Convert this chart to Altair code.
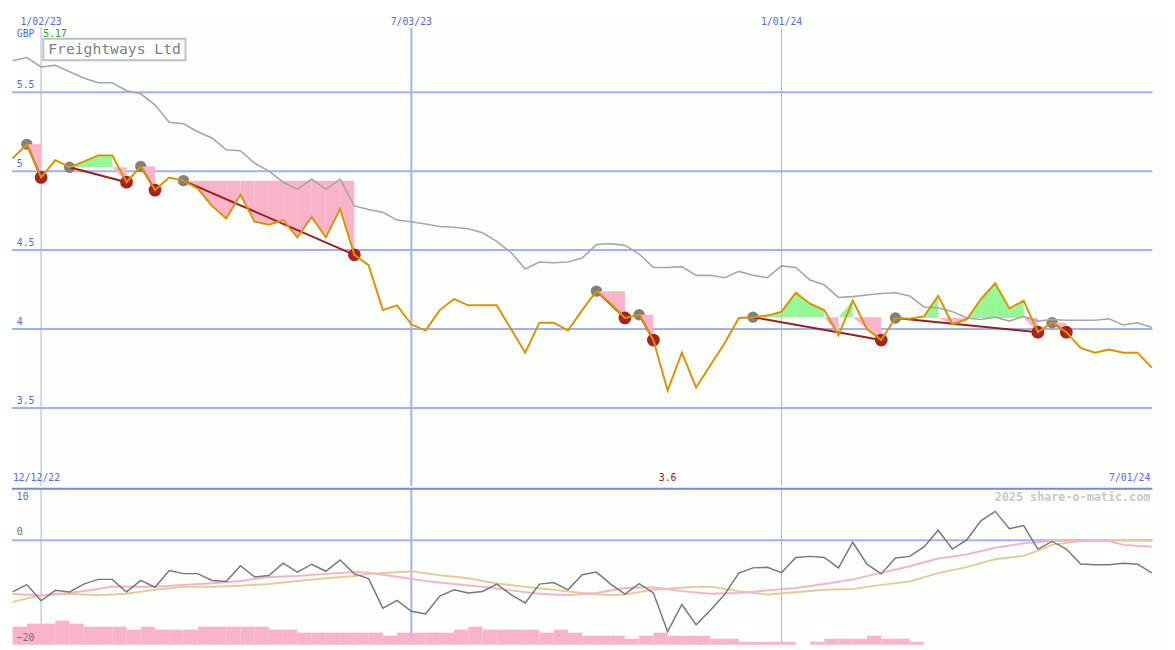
import altair as alt
import pandas as pd

# ---------------- text ----------------
COMPANY = "Freightways Ltd"
CURRENCY = "GBP"
WATERMARK = "2025 share-o-matic.com"
START_LABEL = "12/12/22"
END_LABEL = "7/01/24"

# ---------------- data (weekly, first week 2022-12-19) ----------------
first_week = "2022-12-19"
price = [5.08, 5.17, 4.96, 5.07, 5.025, 5.06, 5.10, 5.10, 4.93, 5.03,
         4.88, 4.96, 4.94, 4.89, 4.78, 4.70, 4.85, 4.68, 4.66, 4.69,
         4.58, 4.71, 4.58, 4.76, 4.47, 4.405, 4.12, 4.15, 4.03, 3.99,
         4.12, 4.19, 4.15, 4.15, 4.15, 4.00, 3.85, 4.04, 4.04, 3.99,
         4.12, 4.24, 4.16, 4.07, 4.09, 3.93, 3.61, 3.85, 3.63, 3.77,
         3.91, 4.07, 4.075, 4.085, 4.11, 4.23, 4.16, 4.12, 3.96, 4.18,
         4.00, 3.93, 4.07, 4.065, 4.08, 4.21, 4.03, 4.06, 4.19, 4.29,
         4.13, 4.18, 3.98, 4.04, 3.98, 3.88, 3.85, 3.87, 3.85, 3.85, 3.755]
ma_slow = [5.70, 5.72, 5.66, 5.67, 5.63, 5.59, 5.56, 5.56, 5.51, 5.49,
           5.42, 5.31, 5.30, 5.25, 5.21, 5.135, 5.13, 5.05, 5.00, 4.93,
           4.885, 4.95, 4.885, 4.95, 4.78, 4.757, 4.74, 4.69, 4.68, 4.665,
           4.65, 4.645, 4.635, 4.61, 4.555, 4.485, 4.38, 4.425, 4.42, 4.425,
           4.45, 4.535, 4.54, 4.53, 4.475, 4.39, 4.39, 4.395, 4.34, 4.34,
           4.325, 4.365, 4.34, 4.325, 4.40, 4.39, 4.31, 4.28, 4.20, 4.205,
           4.215, 4.225, 4.23, 4.21, 4.14, 4.135, 4.11, 4.07, 4.06, 4.075,
           4.05, 4.08, 4.05, 4.06, 4.055, 4.055, 4.055, 4.065, 4.025, 4.04, 4.01]
momentum = [-9.9, -8.5, -11.6, -9.6, -9.9, -8.4, -7.5, -7.5, -9.9, -7.7,
            -9.0, -5.8, -6.4, -6.4, -7.7, -7.9, -4.9, -7.05, -6.75, -4.4,
            -6.1, -4.6, -5.95, -3.8, -6.45, -7.35, -13.0, -11.5, -13.6, -14.1,
            -10.7, -9.5, -10.1, -9.8, -8.4, -10.4, -12.0, -8.4, -8.1, -9.5,
            -6.6, -6.1, -8.4, -10.3, -8.3, -10.1, -17.5, -12.3, -16.2, -13.4,
            -10.4, -6.3, -5.3, -5.2, -6.2, -3.3, -3.1, -3.3, -5.3, -0.4,
            -4.6, -6.45, -3.4, -3.1, -1.3, 1.9, -1.7, 0.05, 3.7, 5.5,
            2.2, 2.8, -1.7, -0.25, -1.7, -4.55, -4.7, -4.7, -4.4, -4.6, -6.25]
volume = [6, 7, 7, 8, 7, 6, 6, 6, 5, 6,
          5, 5, 5, 6, 6, 6, 6, 6, 5, 5,
          4, 4, 4, 4, 4, 4, 3, 4, 4, 4,
          4, 5, 6, 5, 5, 5, 5, 4, 5, 4,
          3, 3, 3, 2, 3, 4, 3, 3, 3, 2,
          2, 1, 1, 1, 1, 0, 1, 2, 2, 2,
          3, 2, 2, 1, 0, 0, 0, 0, 0, 0,
          0, 0, 0, 0, 0, 0, 0, 0, 0, 0, 0]

# week offsets from 2023-01-02 for the two smooth indicator averages
pink_weeks = [-2, 0, 2, 4, 5, 8, 10, 12, 14, 16, 18, 20, 22, 23, 25, 27, 29, 31, 33, 35,
              37, 39, 41, 43, 45, 47, 49, 51, 53, 55, 57, 59, 61, 63, 65, 67, 69, 71, 73, 75,
              76, 78]
pink_vals = [-10.3, -10.55, -10.1, -9.35, -8.85, -8.9, -8.55, -8.25, -7.8, -7.05,
             -6.85, -6.45, -6.1, -6.25, -7.0, -7.8, -8.4, -8.9, -9.6, -10.25,
             -10.55, -10.1, -9.15, -9.0, -9.75, -10.25, -10.1, -9.6, -9.15, -8.4,
             -7.5, -6.25, -5.0, -3.5, -2.75, -1.45, -0.6, -0.15, 0.0, -0.15,
             -0.9, -1.25]
tan_weeks = [-2, 0, 2, 4, 6, 8, 10, 12, 14, 16, 18, 20, 22, 23, 25, 26, 28, 30, 32, 34,
             36, 38, 40, 41, 43, 46, 47, 49, 51, 53, 55, 57, 59, 61, 63, 65, 67, 69, 70, 71,
             73, 76, 78]
tan_vals = [-11.8, -10.55, -10.25, -10.55, -10.25, -9.5, -8.9, -8.9, -8.7, -8.4,
            -7.8, -7.3, -6.85, -6.45, -6.15, -5.95, -6.7, -7.3, -8.3, -8.9,
            -9.5, -10.1, -10.55, -10.4, -9.5, -8.9, -8.9, -9.75, -10.4, -9.95,
            -9.5, -9.35, -8.55, -7.9, -6.3, -5.15, -3.65, -3.0, -2.0, -0.9,
            -0.15, 0.05, -0.15]

peak_dates = ["2022-12-26", "2023-01-16", "2023-02-20", "2023-03-13", "2023-10-02",
              "2023-10-23", "2023-12-18", "2024-02-26", "2024-05-13"]
trough_dates = ["2023-01-02", "2023-02-13", "2023-02-27", "2023-06-05", "2023-10-16",
                "2023-10-30", "2024-02-19", "2024-05-06", "2024-05-20"]

y_ticks = [3.5, 4, 4.5, 5, 5.5]
x_ticks = ["2023-01-02", "2023-07-03", "2024-01-01"]
bottom_ticks = [10, 0, -20]

# ---------------- styles ----------------
FONT = "DejaVu Sans Mono"
BG = "#fdfffd"
GRID = "#a4b0f4"
SEP = "#7884ea"
LABEL = "#5866ee"
ORANGE = "#dc9200"
MA_GRAY = "#a6a6a6"
TREND = "#a01c1c"
DOT_GRAY = "#808080"
DOT_RED = "#a82222"
PINK = "#fab4c9"
GREEN = "#96f796"
DARK = "#787878"
PINK_LINE = "#f8b2c8"
TAN = "#e4cb9b"

W, H1, H2 = 1163, 481, 160

# ---------------- frames ----------------
weeks = pd.date_range(first_week, periods=len(price), freq="7D")
origin = pd.Timestamp("2023-01-02")
df = pd.DataFrame({"date": weeks, "price": price, "ma": ma_slow,
                   "mom": momentum, "vol": volume})
df["end"] = df["date"] + pd.Timedelta(days=7)
idx = {d: i for i, d in enumerate(weeks)}

pk = [idx[pd.Timestamp(d)] for d in peak_dates]
tr = [idx[pd.Timestamp(d)] for d in trough_dates]
peak_df = pd.DataFrame({"date": weeks[pk], "p": [price[i] for i in pk]})
trough_df = pd.DataFrame({"date": weeks[tr], "p": [price[i] for i in tr]})
trend_df = pd.DataFrame({"d1": weeks[pk], "p1": [price[i] for i in pk],
                         "d2": weeks[tr], "p2": [price[i] for i in tr]})

rows = []
for sid, (s, e) in enumerate(zip(pk, tr)):
    L = price[s]
    for k in range(s, e):
        p0, p1 = price[k], price[k + 1]
        kind = "down" if p1 < L else "up"
        c0 = min(p0, L) if kind == "down" else max(p0, L)
        key = f"{sid}-{k}"
        rows.append({"iv": key, "date": weeks[k], "top": c0, "base": L, "kind": kind})
        rows.append({"iv": key, "date": weeks[k + 1], "top": p1, "base": L, "kind": kind})
fill_df = pd.DataFrame(rows)

pink_df = pd.DataFrame({"date": [origin + pd.Timedelta(weeks=w) for w in pink_weeks], "v": pink_vals})
tan_df = pd.DataFrame({"date": [origin + pd.Timedelta(weeks=w) for w in tan_weeks], "v": tan_vals})
xt = pd.DataFrame({"d": pd.to_datetime(x_ticks)})
yt = pd.DataFrame({"v": y_ticks})
bt = pd.DataFrame({"v": bottom_ticks})

imax = int(pd.Series(price).idxmax())
imin = int(pd.Series(price).idxmin())
hi_df = pd.DataFrame({"date": [weeks[imax]], "p": [price[imax]]})
lo_df = pd.DataFrame({"date": [weeks[imin]], "p": [price[imin]]})

# ---------------- scales ----------------
xs = alt.Scale(domain=[alt.DateTime(year=2022, month=12, date=18, hours=16),
                       alt.DateTime(year=2024, month=7, date=1, hours=6)])
yts = alt.Scale(domain=[3.006, 5.994], nice=False, zero=False)
ybs = alt.Scale(domain=[-20, 10], nice=False, zero=False)
vs = alt.Scale(domain=[0, 52], nice=False, zero=False)


def X(f="date"):
    return alt.X(f"{f}:T", scale=xs, axis=None)


def YT(f):
    return alt.Y(f"{f}:Q", scale=yts, axis=None)


def YB(f):
    return alt.Y(f"{f}:Q", scale=ybs, axis=None)


vwidth = alt.condition("month(datum.d) == 6", alt.value(2), alt.value(1))

# ---------------- top panel ----------------
hgrid = alt.Chart(yt).mark_rule(color=GRID, strokeWidth=2).encode(y=YT("v"))
vgrid_top = alt.Chart(xt).mark_rule(color=GRID).encode(
    x=X("d"), y=alt.value(14), y2=alt.value(H1), strokeWidth=vwidth)
ylab = alt.Chart(yt).mark_text(align="left", baseline="bottom", dy=-2, font=FONT,
                               fontSize=10, color=LABEL).encode(
    x=alt.value(5), y=YT("v"), text=alt.Text("v:Q", format="~g"))
xlab = alt.Chart(xt).mark_text(baseline="top", font=FONT, fontSize=10, color=LABEL).encode(
    x=X("d"), y=alt.value(3), text=alt.Text("d:T", format="%-m/%d/%y"))

peaks = alt.Chart(peak_df).mark_circle(size=135, color=DOT_GRAY, opacity=1).encode(x=X(), y=YT("p"))
fills = alt.Chart(fill_df).mark_area(opacity=1).encode(
    x=X(), y=YT("top"), y2="base:Q",
    color=alt.Color("kind:N", scale=alt.Scale(domain=["up", "down"], range=[GREEN, PINK]), legend=None),
    detail="iv:N")
ma_line = alt.Chart(df).mark_line(color=MA_GRAY, strokeWidth=1.6).encode(x=X(), y=YT("ma"))
trend = alt.Chart(trend_df).mark_rule(color=TREND, strokeWidth=2).encode(
    x=X("d1"), x2="d2:T", y=YT("p1"), y2="p2:Q")
troughs = alt.Chart(trough_df).mark_circle(size=170, color=DOT_RED, opacity=1).encode(x=X(), y=YT("p"))
price_line = alt.Chart(df).mark_line(color=ORANGE, strokeWidth=2).encode(x=X(), y=YT("price"))

title_df = pd.DataFrame({"t": [COMPANY]})
title_box = alt.Chart(title_df).mark_rect(fill=BG, stroke="#c0c0c0", strokeWidth=2).encode(
    x=alt.value(32), x2=alt.value(177), y=alt.value(25), y2=alt.value(47))
title_txt = alt.Chart(title_df).mark_text(align="left", baseline="middle", font=FONT,
                                          fontSize=15, color="#808080").encode(
    x=alt.value(37), y=alt.value(36), text="t:N")
cur_txt = alt.Chart(pd.DataFrame({"t": [CURRENCY]})).mark_text(
    align="left", baseline="middle", font=FONT, fontSize=10, color=LABEL).encode(
    x=alt.value(5), y=alt.value(20), text="t:N")
hi_txt = alt.Chart(hi_df).mark_text(align="left", baseline="middle", font=FONT,
                                    fontSize=10, color="#22a022").encode(
    x=alt.value(32), y=alt.value(20), text=alt.Text("p:Q", format=".2f"))
lo_txt = alt.Chart(lo_df).mark_text(align="center", baseline="bottom", font=FONT,
                                    fontSize=10, color="#a01414").encode(
    x=X(), y=alt.value(H1 - 3), text=alt.Text("p:Q", format=".1f"))
start_txt = alt.Chart(pd.DataFrame({"t": [START_LABEL]})).mark_text(
    align="left", baseline="bottom", font=FONT, fontSize=10, color=LABEL).encode(
    x=alt.value(1), y=alt.value(H1 - 3), text="t:N")
end_txt = alt.Chart(pd.DataFrame({"t": [END_LABEL]})).mark_text(
    align="right", baseline="bottom", font=FONT, fontSize=10, color=LABEL).encode(
    x=alt.value(W - 2), y=alt.value(H1 - 3), text="t:N")

top = alt.layer(hgrid, vgrid_top, peaks, fills, ma_line, trend, troughs, price_line,
                ylab, xlab, title_box, title_txt, cur_txt, hi_txt, lo_txt,
                start_txt, end_txt).properties(width=W, height=H1)

# ---------------- bottom panel ----------------
vgrid_bot = alt.Chart(xt).mark_rule(color=GRID).encode(x=X("d"), strokeWidth=vwidth)
zero_line = alt.Chart(bt).transform_filter("datum.v == 0").mark_rule(
    color=GRID, strokeWidth=2).encode(y=YB("v"))
vol_bars = alt.Chart(df).mark_rect(color=PINK).encode(
    x=X(), x2="end:T", y=alt.Y("vol:Q", scale=vs, axis=None), y2=alt.datum(0))
tan_line = alt.Chart(tan_df).mark_line(color=TAN, strokeWidth=2).encode(x=X(), y=YB("v"))
pink_line = alt.Chart(pink_df).mark_line(color=PINK_LINE, strokeWidth=2).encode(x=X(), y=YB("v"))
mom_line = alt.Chart(df).mark_line(color=DARK, strokeWidth=1.5).encode(x=X(), y=YB("mom"))
sep = alt.Chart(title_df).mark_rule(color=SEP, strokeWidth=2).encode(y=alt.value(1))
lab_top = alt.Chart(bt).transform_filter("datum.v == 10").mark_text(
    align="left", baseline="top", dy=4, font=FONT, fontSize=10, color="#707070").encode(
    x=alt.value(5), y=YB("v"), text="v:Q")
lab_mid = alt.Chart(bt).transform_filter("datum.v == 0").mark_text(
    align="left", baseline="bottom", dy=-3, font=FONT, fontSize=10, color="#707070").encode(
    x=alt.value(5), y=YB("v"), text="v:Q")
lab_bot = alt.Chart(bt).transform_filter("datum.v == -20").mark_text(
    align="left", baseline="bottom", dy=-2, font=FONT, fontSize=10, color="#707070").encode(
    x=alt.value(5), y=YB("v"), text="v:Q")
wm = alt.Chart(pd.DataFrame({"t": [WATERMARK]})).mark_text(
    align="right", baseline="middle", font=FONT, fontSize=12, fontWeight="bold",
    color="#c8c8c8").encode(x=alt.value(W - 2), y=alt.value(9), text="t:N")

bottom = alt.layer(vgrid_bot, zero_line, vol_bars, tan_line, pink_line, mom_line, sep,
                   lab_top, lab_mid, lab_bot, wm).resolve_scale(y="independent").properties(
    width=W, height=H2)

chart = alt.vconcat(top, bottom, spacing=0).properties(
    padding=0, background=BG).configure_view(stroke=None, fill=BG)

chart.save("out.html", embed_options={"renderer": "svg", "actions": False})
